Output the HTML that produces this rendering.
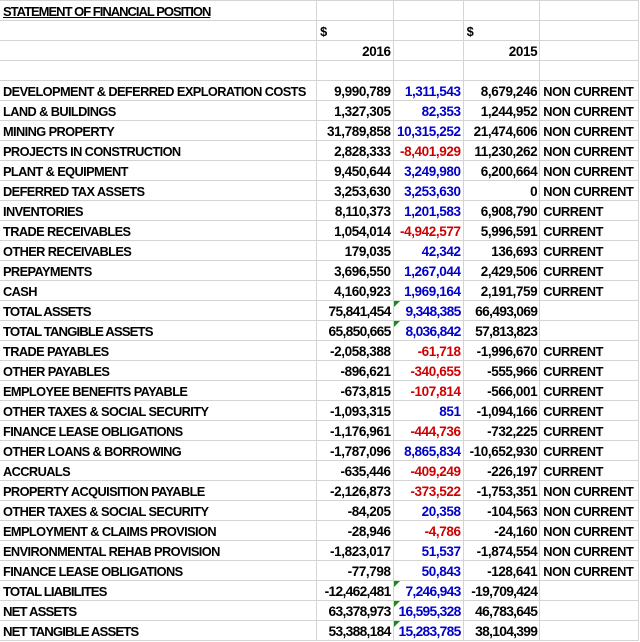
<!DOCTYPE html>
<html><head><meta charset="utf-8"><style>
html,body{margin:0;padding:0;background:#fff;width:640px;height:642px;overflow:hidden}
table{border-collapse:collapse;table-layout:fixed;position:absolute;left:-1px;top:0}
td{height:19px;border:1px solid #d4d4d4;padding:2px 2px 0 3px;box-sizing:border-box;font-family:"Liberation Sans",sans-serif;font-weight:bold;font-size:12.8px;letter-spacing:-0.6px;white-space:nowrap;overflow:visible;color:#000;position:relative;line-height:17px}
tr{height:20px}
td.n{text-align:right;font-size:13.5px;letter-spacing:-0.4px}
td.e{letter-spacing:-0.4px}
td.b{color:#0000c8}
td.r{color:#d00000}
tr.t td{letter-spacing:-0.9px;font-size:13.2px}
tr.t td.n{letter-spacing:-0.7px;font-size:13.8px}
td.g::before{content:"";position:absolute;left:0;top:0;border-top:6px solid #1a8a1a;border-right:6px solid transparent}
.u{text-decoration:underline;letter-spacing:-1px;font-size:13px}
</style></head><body>
<table>
<colgroup><col style="width:318px"><col style="width:77px"><col style="width:70px"><col style="width:77px"><col style="width:99px"></colgroup>
<tr><td><span class="u">STATEMENT OF FINANCIAL POSITION</span></td><td></td><td></td><td></td><td></td></tr>
<tr><td></td><td>$</td><td></td><td>$</td><td></td></tr>
<tr><td></td><td class="n">2016</td><td></td><td class="n">2015</td><td></td></tr>
<tr><td></td><td></td><td></td><td></td><td></td></tr>
<tr><td>DEVELOPMENT &amp; DEFERRED EXPLORATION COSTS</td><td class="n">9,990,789</td><td class="n b">1,311,543</td><td class="n">8,679,246</td><td class="e">NON CURRENT</td></tr>
<tr><td>LAND &amp; BUILDINGS</td><td class="n">1,327,305</td><td class="n b">82,353</td><td class="n">1,244,952</td><td class="e">NON CURRENT</td></tr>
<tr><td>MINING PROPERTY</td><td class="n">31,789,858</td><td class="n b">10,315,252</td><td class="n">21,474,606</td><td class="e">NON CURRENT</td></tr>
<tr><td>PROJECTS IN CONSTRUCTION</td><td class="n">2,828,333</td><td class="n r">-8,401,929</td><td class="n">11,230,262</td><td class="e">NON CURRENT</td></tr>
<tr><td>PLANT &amp; EQUIPMENT</td><td class="n">9,450,644</td><td class="n b">3,249,980</td><td class="n">6,200,664</td><td class="e">NON CURRENT</td></tr>
<tr><td>DEFERRED TAX ASSETS</td><td class="n">3,253,630</td><td class="n b">3,253,630</td><td class="n">0</td><td class="e">NON CURRENT</td></tr>
<tr><td>INVENTORIES</td><td class="n">8,110,373</td><td class="n b">1,201,583</td><td class="n">6,908,790</td><td class="e">CURRENT</td></tr>
<tr><td>TRADE RECEIVABLES</td><td class="n">1,054,014</td><td class="n r">-4,942,577</td><td class="n">5,996,591</td><td class="e">CURRENT</td></tr>
<tr><td>OTHER RECEIVABLES</td><td class="n">179,035</td><td class="n b">42,342</td><td class="n">136,693</td><td class="e">CURRENT</td></tr>
<tr><td>PREPAYMENTS</td><td class="n">3,696,550</td><td class="n b">1,267,044</td><td class="n">2,429,506</td><td class="e">CURRENT</td></tr>
<tr><td>CASH</td><td class="n">4,160,923</td><td class="n b">1,969,164</td><td class="n">2,191,759</td><td class="e">CURRENT</td></tr>
<tr class="t"><td>TOTAL ASSETS</td><td class="n">75,841,454</td><td class="n b g">9,348,385</td><td class="n">66,493,069</td><td></td></tr>
<tr class="t"><td>TOTAL TANGIBLE ASSETS</td><td class="n">65,850,665</td><td class="n b g">8,036,842</td><td class="n">57,813,823</td><td></td></tr>
<tr><td>TRADE PAYABLES</td><td class="n">-2,058,388</td><td class="n r">-61,718</td><td class="n">-1,996,670</td><td class="e">CURRENT</td></tr>
<tr><td>OTHER PAYABLES</td><td class="n">-896,621</td><td class="n r">-340,655</td><td class="n">-555,966</td><td class="e">CURRENT</td></tr>
<tr><td>EMPLOYEE BENEFITS PAYABLE</td><td class="n">-673,815</td><td class="n r">-107,814</td><td class="n">-566,001</td><td class="e">CURRENT</td></tr>
<tr><td>OTHER TAXES &amp; SOCIAL SECURITY</td><td class="n">-1,093,315</td><td class="n b">851</td><td class="n">-1,094,166</td><td class="e">CURRENT</td></tr>
<tr><td>FINANCE LEASE OBLIGATIONS</td><td class="n">-1,176,961</td><td class="n r">-444,736</td><td class="n">-732,225</td><td class="e">CURRENT</td></tr>
<tr><td>OTHER LOANS &amp; BORROWING</td><td class="n">-1,787,096</td><td class="n b">8,865,834</td><td class="n">-10,652,930</td><td class="e">CURRENT</td></tr>
<tr><td>ACCRUALS</td><td class="n">-635,446</td><td class="n r">-409,249</td><td class="n">-226,197</td><td class="e">CURRENT</td></tr>
<tr><td>PROPERTY ACQUISITION PAYABLE</td><td class="n">-2,126,873</td><td class="n r">-373,522</td><td class="n">-1,753,351</td><td class="e">NON CURRENT</td></tr>
<tr><td>OTHER TAXES &amp; SOCIAL SECURITY</td><td class="n">-84,205</td><td class="n b">20,358</td><td class="n">-104,563</td><td class="e">NON CURRENT</td></tr>
<tr><td>EMPLOYMENT &amp; CLAIMS PROVISION</td><td class="n">-28,946</td><td class="n r">-4,786</td><td class="n">-24,160</td><td class="e">NON CURRENT</td></tr>
<tr><td>ENVIRONMENTAL REHAB PROVISION</td><td class="n">-1,823,017</td><td class="n b">51,537</td><td class="n">-1,874,554</td><td class="e">NON CURRENT</td></tr>
<tr><td>FINANCE LEASE OBLIGATIONS</td><td class="n">-77,798</td><td class="n b">50,843</td><td class="n">-128,641</td><td class="e">NON CURRENT</td></tr>
<tr class="t"><td>TOTAL LIABILITES</td><td class="n">-12,462,481</td><td class="n b g">7,246,943</td><td class="n">-19,709,424</td><td></td></tr>
<tr class="t"><td>NET ASSETS</td><td class="n">63,378,973</td><td class="n b g">16,595,328</td><td class="n">46,783,645</td><td></td></tr>
<tr class="t"><td>NET TANGIBLE ASSETS</td><td class="n">53,388,184</td><td class="n b g">15,283,785</td><td class="n">38,104,399</td><td></td></tr>
</table>
</body></html>
